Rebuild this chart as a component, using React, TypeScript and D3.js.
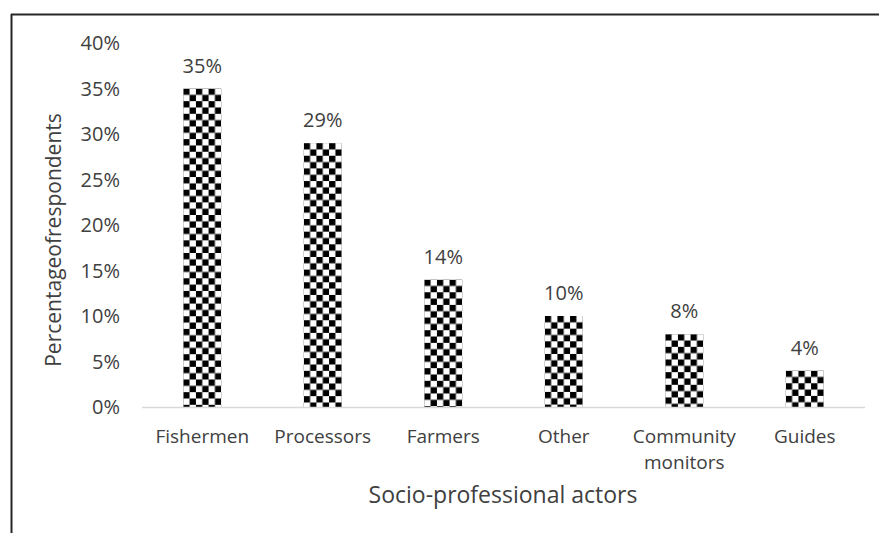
import React from "react";
import * as d3 from "d3";

const categories = ["Fishermen", "Processors", "Farmers", "Other", "Community monitors", "Guides"];
const values = [35, 29, 14, 10, 8, 4];
const yTicks = [0, 5, 10, 15, 20, 25, 30, 35, 40];

const W = 879;
const H = 533;
const FONT = "'Open Sans', 'Liberation Sans', sans-serif";
const TXT = "#404040";
const FS = 20;

export default function App() {
  const x = d3.scaleBand<string>().domain(categories).range([142, 865]).paddingInner(0.685).paddingOuter(0.3425);
  const y = d3.scaleLinear().domain([0, 40]).range([407, 43]);
  const bw = x.bandwidth();
  const cell = bw / 6;

  return (
    <svg width={W} height={H} style={{ position: "absolute", left: 0, top: 0, background: "#fff" }}>
      <defs>
        {categories.map((c, i) => (
          <pattern
            key={c}
            id={`chk${i}`}
            patternUnits="userSpaceOnUse"
            x={x(c)!}
            y={y(values[i])}
            width={cell * 2}
            height={cell * 2}
          >
            <rect x={0} y={0} width={cell * 2} height={cell * 2} fill="#fff" />
            <rect x={0} y={0} width={cell} height={cell} fill="#000" />
            <rect x={cell} y={cell} width={cell} height={cell} fill="#000" />
          </pattern>
        ))}
      </defs>
      <rect x={0} y={0} width={W} height={H} fill="#fff" />
      {/* frame */}
      <line x1={11} y1={14.5} x2={W} y2={14.5} stroke="#262626" strokeWidth={2} />
      <line x1={11.5} y1={14} x2={11.5} y2={H} stroke="#262626" strokeWidth={2} />

      {/* y tick labels */}
      {yTicks.map((t) => (
        <text key={t} x={120} y={y(t)} dy="0.35em" textAnchor="end" fontFamily={FONT} fontSize={FS} fill={TXT}>
          {t}%
        </text>
      ))}

      {/* bars */}
      {categories.map((c, i) => (
        <g key={c}>
          <rect x={x(c)!} y={y(values[i])} width={bw} height={y(0) - y(values[i])} fill={`url(#chk${i})`} />
          <text
            x={x(c)! + bw / 2}
            y={y(values[i]) - 16}
            textAnchor="middle"
            fontFamily={FONT}
            fontSize={FS}
            fill={TXT}
          >
            {values[i]}%
          </text>
        </g>
      ))}

      {/* x axis line */}
      <line x1={142} x2={865} y1={407.5} y2={407.5} stroke="#d9d9d9" strokeWidth={1.5} />

      {/* x labels */}
      {categories.map((c) => {
        const parts = c === "Community monitors" ? ["Community", "monitors"] : [c];
        return parts.map((p, j) => (
          <text
            key={c + p}
            x={x(c)! + bw / 2}
            y={443 + j * 26}
            textAnchor="middle"
            fontFamily={FONT}
            fontSize={19}
            fill={TXT}
          >
            {p}
          </text>
        ));
      })}

      {/* axis titles */}
      <text x={503} y={503} textAnchor="middle" fontFamily={FONT} fontSize={23} fill={TXT}>
        Socio-professional actors
      </text>
      <text
        transform={`translate(61,${240}) rotate(-90)`}
        textAnchor="middle"
        fontFamily={FONT}
        fontSize={21}
        fill={TXT}
      >
        Percentageofrespondents
      </text>
    </svg>
  );
}
